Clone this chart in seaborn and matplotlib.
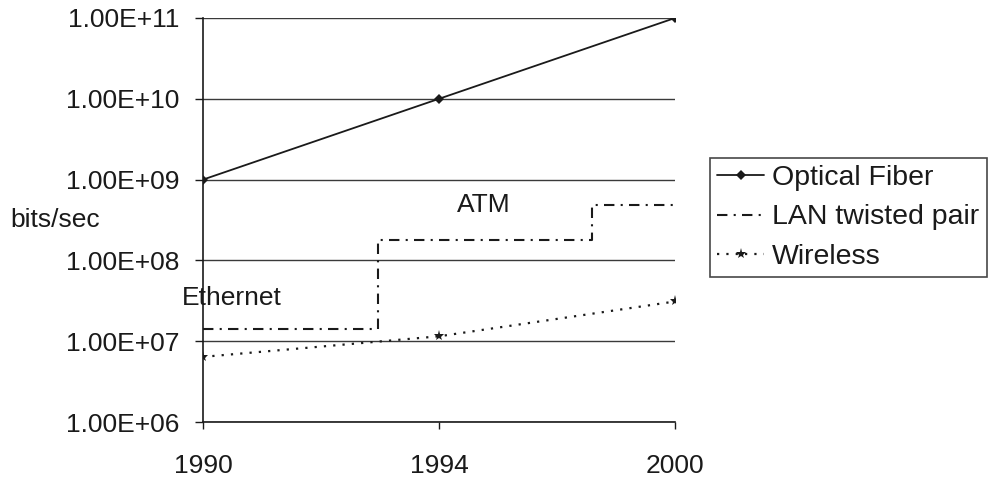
import matplotlib
matplotlib.use("Agg")
import matplotlib.pyplot as plt
from matplotlib.ticker import FixedLocator, FuncFormatter, NullLocator
import numpy as np
import pandas as pd
import seaborn as sns

# Category positions on the x axis and their labels
years = ["1990", "1994", "2000"]
year_pos = [0, 1, 2]

# Transmission rates in bits/sec
optical_fiber = [1e9, 1e10, 1e11]
wireless = [6.4e6, 1.15e7, 3.1e7]

# LAN twisted pair is a step function (Ethernet -> ATM upgrades)
lan_pos = [0.0, 0.743, 1.647, 2.0]
lan_rate = [1.4e7, 1.8e8, 4.8e8, 4.8e8]

y_ticks = [1e6, 1e7, 1e8, 1e9, 1e10, 1e11]

sns.set_theme(style="white")
plt.rcParams["font.family"] = ["Liberation Sans", "DejaVu Sans"]
ink = "#1a1a1a"
fs = 19

fig = plt.figure(figsize=(9.95, 4.84), dpi=100)
ax = fig.add_axes([203 / 995, 1 - 422 / 484, (675 - 203) / 995, (422 - 18) / 484])

fiber_df = pd.DataFrame({"x": year_pos, "rate": optical_fiber})
lan_df = pd.DataFrame({"x": lan_pos, "rate": lan_rate})
wl_df = pd.DataFrame({"x": year_pos, "rate": wireless})

sns.lineplot(data=fiber_df, x="x", y="rate", ax=ax, color=ink, lw=1.3,
             marker="D", markersize=5, markeredgewidth=0, label="Optical Fiber",
             estimator=None, sort=False)
sns.lineplot(data=lan_df, x="x", y="rate", ax=ax, color=ink, lw=1.5,
             drawstyle="steps-post", dashes=False, label="LAN twisted pair",
             estimator=None, sort=False)
sns.lineplot(data=wl_df, x="x", y="rate", ax=ax, color=ink, lw=1.6,
             marker="*", markersize=8, markeredgewidth=0, label="Wireless",
             estimator=None, sort=False)

lines = ax.get_lines()
lines[1].set_linestyle((0, (5, 3, 1, 3)))
lines[2].set_linestyle((0, (1, 3.2)))

ax.set_yscale("log")
ax.set_ylim(1e6, 1e11)
ax.set_xlim(0, 2)
ax.yaxis.set_major_locator(FixedLocator(y_ticks))
ax.yaxis.set_minor_locator(NullLocator())
ax.yaxis.set_major_formatter(FuncFormatter(lambda v, p: f"{v:.2E}"))
ax.set_xticks(year_pos)
ax.set_xticklabels(years)

ax.yaxis.grid(True, color="#3a3a3a", lw=1.0)
ax.xaxis.grid(False)
for side in ("top", "right"):
    ax.spines[side].set_visible(False)
for side in ("left", "bottom"):
    ax.spines[side].set_color(ink)
    ax.spines[side].set_linewidth(1.2)

ax.tick_params(axis="y", direction="out", length=6, width=1, color=ink,
               pad=11, labelsize=fs, labelcolor=ink, left=True)
ax.tick_params(axis="x", direction="out", length=5, width=1, color=ink,
               pad=18, labelsize=fs, labelcolor=ink, bottom=True)
ax.set_xlabel("")
ax.set_ylabel("")

fig.text(10 / 995, 1 - 220 / 484, "bits/sec", fontsize=fs, color=ink,
         ha="left", va="center")
ax.text(1.19, 4.9e8, "ATM", fontsize=fs, color=ink, ha="center", va="center")
ax.text(-0.09, 3.4e7, "Ethernet", fontsize=fs, color=ink, ha="left", va="center")

leg = ax.legend(loc="upper left", bbox_to_anchor=(710 / 995, 1 - 158 / 484),
                bbox_transform=fig.transFigure, frameon=True, fancybox=False,
                shadow=False, fontsize=20.5, handlelength=1.65, handletextpad=0.28,
                labelspacing=0.46, borderpad=0.26, borderaxespad=0)
leg.get_frame().set_edgecolor(ink)
leg.get_frame().set_linewidth(1.2)
for t in leg.get_texts():
    t.set_color(ink)

fig.savefig("out.png", dpi=100, facecolor="white")
